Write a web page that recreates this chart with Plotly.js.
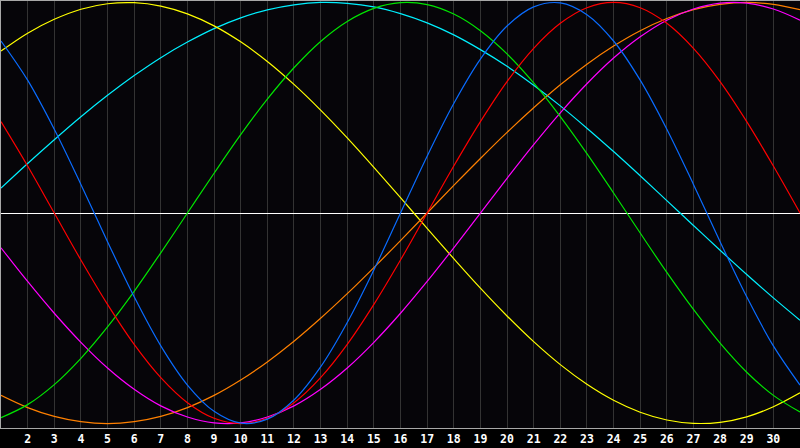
<!DOCTYPE html>
<html>
<head>
<meta charset="utf-8">
<script src="https://cdn.plot.ly/plotly-3.0.1.min.js"></script>
<style>
  html, body { margin: 0; padding: 0; background: #000; }
  #chart { width: 800px; height: 448px; }
</style>
</head>
<body>
<div id="chart"></div>
<script>
// days of the month shown on the chart
const days = [1, 2, 3, 4, 5, 6, 7, 8, 9, 10, 11, 12, 13, 14, 15, 16,
  17, 18, 19, 20, 21, 22, 23, 24, 25, 26, 27, 28, 29, 30, 31];
const tickDays = [2, 3, 4, 5, 6, 7, 8, 9, 10, 11, 12, 13, 14, 15, 16,
  17, 18, 19, 20, 21, 22, 23, 24, 25, 26, 27, 28, 29, 30];
const today = 16;

// cycle values, one per day
const physical = [0.817, 0.631, 0.398, 0.136, -0.136, -0.398, -0.631, -0.817, -0.942, -0.998,
  -0.979, -0.888, -0.731, -0.520, -0.270, 0, 0.270, 0.520, 0.731, 0.888,
  0.979, 0.998, 0.942, 0.817, 0.631, 0.398, 0.136, -0.136, -0.398, -0.631, -0.817];
const emotional = [0.434, 0.223, 0, -0.223, -0.434, -0.624, -0.782, -0.901, -0.975, -1,
  -0.975, -0.901, -0.782, -0.624, -0.434, -0.223, 0, 0.223, 0.434, 0.624,
  0.782, 0.901, 0.975, 1, 0.975, 0.901, 0.782, 0.624, 0.434, 0.223, 0];
const intellectual = [-0.972, -0.910, -0.815, -0.690, -0.541, -0.372, -0.189, 0, 0.189, 0.372,
  0.541, 0.690, 0.815, 0.910, 0.972, 0.999, 0.990, 0.945, 0.866, 0.756,
  0.618, 0.458, 0.282, 0.095, -0.095, -0.282, -0.458, -0.618, -0.756, -0.866, -0.945];
const intuitive = [-0.165, -0.325, -0.476, -0.614, -0.736, -0.837, -0.916, -0.969, -0.997, -0.997,
  -0.969, -0.916, -0.837, -0.736, -0.614, -0.476, -0.325, -0.165, 0, 0.165,
  0.325, 0.476, 0.614, 0.736, 0.837, 0.916, 0.969, 0.997, 0.997, 0.969, 0.916];
const aesthetic = [0.769, 0.854, 0.920, 0.968, 0.994, 0.999, 0.983, 0.946, 0.889, 0.813,
  0.720, 0.611, 0.489, 0.357, 0.217, 0.073, -0.073, -0.217, -0.357, -0.489,
  -0.611, -0.720, -0.813, -0.889, -0.946, -0.983, -0.999, -0.994, -0.968, -0.920, -0.854];
const awareness = [-0.866, -0.924, -0.966, -0.991, -1, -0.991, -0.966, -0.924, -0.866, -0.793,
  -0.707, -0.609, -0.5, -0.383, -0.259, -0.131, 0, 0.131, 0.259, 0.383,
  0.5, 0.609, 0.707, 0.793, 0.866, 0.924, 0.966, 0.991, 1, 0.991, 0.966];
const spiritual = [0.118, 0.235, 0.348, 0.457, 0.559, 0.653, 0.738, 0.812, 0.876, 0.927,
  0.965, 0.989, 1.000, 0.996, 0.979, 0.947, 0.903, 0.846, 0.776, 0.697,
  0.607, 0.509, 0.403, 0.292, 0.177, 0.059, -0.059, -0.177, -0.292, -0.403, -0.509];

const series = [
  { name: "Spiritual", y: spiritual, color: "#00f0ff" },
  { name: "Aesthetic", y: aesthetic, color: "#ffff00" },
  { name: "Awareness", y: awareness, color: "#ff8000" },
  { name: "Intuitive", y: intuitive, color: "#ff00ff" },
  { name: "Intellectual", y: intellectual, color: "#00e600" },
  { name: "Emotional", y: emotional, color: "#ff0000" },
  { name: "Physical", y: physical, color: "#0a6cff" },
];

const traces = series.map(s => ({
  type: "scatter",
  mode: "lines",
  name: s.name,
  x: days,
  y: s.y,
  line: { color: s.color, width: 1.2, shape: "spline", smoothing: 1 },
  hoverinfo: "skip",
}));

const layout = {
  width: 800,
  height: 448,
  margin: { l: 1, r: 0, t: 1, b: 20, pad: 0 },
  paper_bgcolor: "#000000",
  plot_bgcolor: "#060509",
  showlegend: false,
  xaxis: {
    range: [1, 31],
    tickvals: tickDays,
    ticktext: tickDays.map(String),
    showgrid: true,
    gridcolor: "#333333",
    gridwidth: 1,
    zeroline: false,
    showline: true,
    linecolor: "#a8a8a8",
    linewidth: 1,
    mirror: true,
    ticks: "",
    tickfont: { family: "DejaVu Sans Mono", size: 11.5, color: "#ffffff", weight: "bold" },
    fixedrange: true,
  },
  yaxis: {
    range: [-1.021, 1.007],
    showgrid: false,
    zeroline: true,
    zerolinecolor: "#ffffff",
    zerolinewidth: 1,
    showticklabels: false,
    showline: true,
    linecolor: "#a8a8a8",
    linewidth: 1,
    mirror: true,
    ticks: "",
    fixedrange: true,
  },
  shapes: [{
    type: "line",
    xref: "x", yref: "paper",
    x0: today, x1: today, y0: 0, y1: 1,
    line: { color: "#ffffff", width: 1 },
    layer: "below",
  }],
};

Plotly.newPlot("chart", traces, layout, { staticPlot: true, displayModeBar: false });
</script>
</body>
</html>
